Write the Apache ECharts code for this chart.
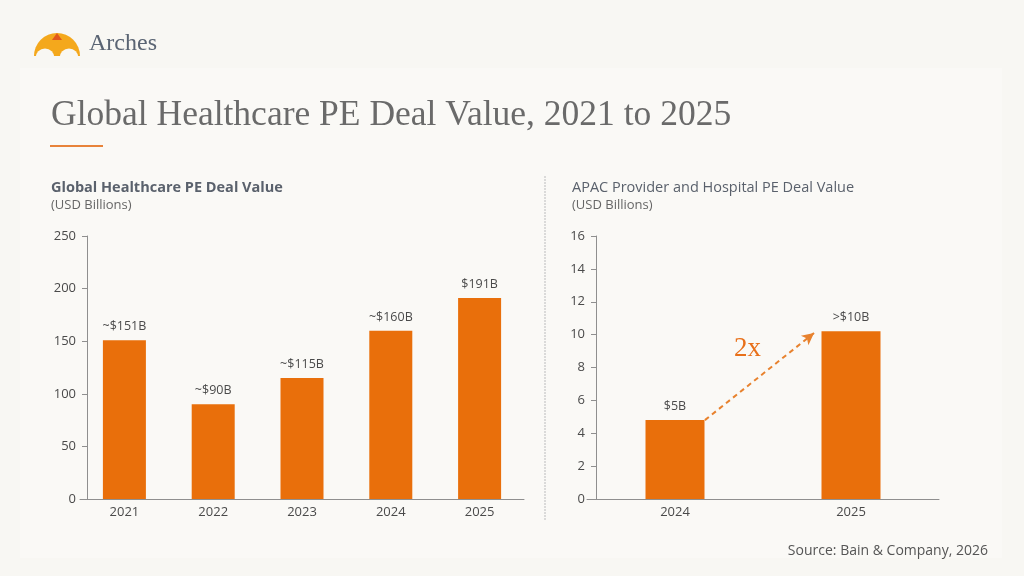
<!DOCTYPE html>
<html>
<head>
<meta charset="utf-8">
<script src="https://cdn.jsdelivr.net/npm/echarts@6/dist/echarts.min.js"></script>
<style>
  html, body { margin: 0; padding: 0; background: #f8f7f3; }
  #chart { width: 1024px; height: 576px; }
</style>
</head>
<body>
<div id="chart"></div>
<script>
// global deal value
const globalYears = ['2021', '2022', '2023', '2024', '2025'];
const globalValues = [151, 90, 115, 160, 191];
const globalLabels = ['~$151B', '~$90B', '~$115B', '~$160B', '$191B'];

// APAC provider & hospital
const apacYears = ['2024', '2025'];
const apacValues = [4.8, 10.2];
const apacLabels = ['$5B', '>$10B'];

// arrow between the two APAC bars, in band units on a hidden value axis
const arrowFrom = [0.67, 4.8];
const arrowTo = [1.29, 10.1];

const ORANGE = '#e96f0b';
const AXIS = '#8f8f8f';
const TEXT = '#4a4a4a';
const SANS = '"Open Sans", sans-serif';

const chart = echarts.init(document.getElementById('chart'));

function barLabels(labels) {
  return {
    show: true,
    position: 'top',
    distance: 7,
    color: TEXT,
    fontFamily: SANS,
    fontSize: 12.5,
    formatter: (p) => labels[p.dataIndex],
  };
}

const axisText = { color: TEXT, fontFamily: SANS, fontSize: 13 };

const option = {
  backgroundColor: '#f8f7f3',
  animation: false,
  title: [
    {
      text: 'Global Healthcare PE Deal Value, 2021 to 2025',
      left: 46, top: 93,
      textStyle: { fontFamily: '"Liberation Serif", serif', fontWeight: 'normal', fontSize: 35.5, color: '#6a6a6a' },
    },
    {
      text: 'Global Healthcare PE Deal Value',
      subtext: '(USD Billions)',
      left: 46, top: 175, itemGap: 4,
      textStyle: { fontFamily: SANS, fontWeight: 'bold', fontSize: 14.5, color: '#5a616c' },
      subtextStyle: { fontFamily: SANS, fontSize: 13, color: '#666' },
    },
    {
      text: 'APAC Provider and Hospital PE Deal Value',
      subtext: '(USD Billions)',
      left: 567, top: 175, itemGap: 4,
      textStyle: { fontFamily: SANS, fontWeight: 'normal', fontSize: 14.5, color: '#5a616c' },
      subtextStyle: { fontFamily: SANS, fontSize: 13, color: '#666' },
    },
    {
      text: 'Source: Bain & Company, 2026',
      right: 31, top: 539,
      textStyle: { fontFamily: SANS, fontWeight: 'normal', fontSize: 14, color: '#555' },
    },
  ],
  grid: [
    { left: 80, top: 236, width: 444, height: 263 },
    { left: 587, top: 236, width: 352, height: 263 },
  ],
  xAxis: [
    {
      type: 'category', gridIndex: 0, data: globalYears,
      axisLine: { lineStyle: { color: AXIS } },
      axisTick: { show: false },
      axisLabel: Object.assign({ margin: 7 }, axisText),
    },
    {
      type: 'category', gridIndex: 1, data: apacYears,
      axisLine: { lineStyle: { color: AXIS } },
      axisTick: { show: false },
      axisLabel: Object.assign({ margin: 7 }, axisText),
    },
    { type: 'value', gridIndex: 1, min: 0, max: 2, show: false },
  ],
  yAxis: [
    {
      type: 'value', gridIndex: 0, min: 0, max: 250, interval: 50, offset: -7,
      axisLine: { show: true, lineStyle: { color: AXIS } },
      axisTick: { show: true, length: 5, lineStyle: { color: AXIS } },
      splitLine: { show: false },
      axisLabel: Object.assign({ margin: 11 }, axisText),
    },
    {
      type: 'value', gridIndex: 1, min: 0, max: 16, interval: 2, offset: -9,
      axisLine: { show: true, lineStyle: { color: AXIS } },
      axisTick: { show: true, length: 5, lineStyle: { color: AXIS } },
      splitLine: { show: false },
      axisLabel: Object.assign({ margin: 11 }, axisText),
    },
  ],
  series: [
    {
      type: 'bar', xAxisIndex: 0, yAxisIndex: 0,
      data: globalValues, barWidth: 43,
      itemStyle: { color: ORANGE },
      label: barLabels(globalLabels),
    },
    {
      type: 'bar', xAxisIndex: 1, yAxisIndex: 1,
      data: apacValues, barWidth: 59,
      itemStyle: { color: ORANGE },
      label: barLabels(apacLabels),
    },
    {
      type: 'line', xAxisIndex: 2, yAxisIndex: 1,
      data: [arrowFrom, arrowTo],
      symbol: 'none',
      lineStyle: { opacity: 0 },
      markLine: {
        silent: true,
        symbol: ['none', 'arrow'],
        symbolSize: [9, 12],
        lineStyle: { color: '#e8822e', type: [5, 4], width: 2 },
        label: { show: false },
        data: [[{ coord: arrowFrom }, { coord: arrowTo }]],
      },
    },
  ],
  graphic: [
    // inner panel
    { type: 'rect', z: -10, shape: { x: 20, y: 68, width: 982, height: 490 }, style: { fill: '#faf9f6' } },
    // divider
    { type: 'line', shape: { x1: 545, y1: 176, x2: 545, y2: 520 }, style: { stroke: '#cfcfcf', lineWidth: 1.5, lineDash: [2, 1] } },
    // orange rule under title
    { type: 'rect', shape: { x: 50, y: 145, width: 53, height: 2 }, style: { fill: '#e8833a' } },
    // logo dome
    { type: 'sector', shape: { cx: 57, cy: 56, r: 23, r0: 0, startAngle: Math.PI, endAngle: 2 * Math.PI }, style: { fill: '#f4a81c' } },
    { type: 'circle', shape: { cx: 45, cy: 58, r: 9.5 }, style: { fill: '#f8f7f3' } },
    { type: 'circle', shape: { cx: 69, cy: 58, r: 9.5 }, style: { fill: '#f8f7f3' } },
    { type: 'polygon', shape: { points: [[57, 33], [52, 40], [62, 40]] }, style: { fill: '#e2571b' } },
    { type: 'text', left: 89, top: 32, style: { text: 'Arches', font: '24px "Liberation Serif", serif', fill: '#5a6473' } },
    // 2x callout
    { type: 'text', left: 734, top: 335, style: { text: '2x', font: '27px "Liberation Serif", serif', fill: '#e8701a' } },
  ],
};

chart.setOption(option);
</script>
</body>
</html>
